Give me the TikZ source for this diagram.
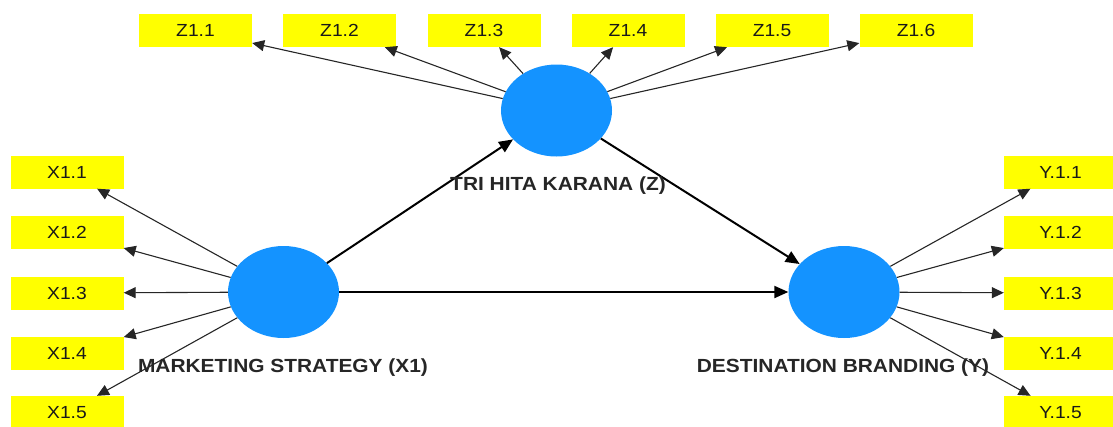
\documentclass[tikz,border=0pt]{standalone}
\usepackage{fontspec}
\setmainfont{Liberation Sans}
\newfontfamily\lblfont[FakeStretch=1.1]{Liberation Sans}
\usetikzlibrary{shapes.geometric,arrows.meta}
\definecolor{latent}{RGB}{20,147,255}
\definecolor{ind}{RGB}{255,255,0}
\begin{document}
\begin{tikzpicture}[x=1pt,y=-1pt,
 indbox/.style={fill=ind, minimum width=113pt, minimum height=33pt, inner sep=0pt, font=\fontsize{17.5}{17.5}\selectfont\lblfont, text=black!90},
 lv/.style={ellipse, fill=latent, minimum width=111pt, minimum height=92pt, inner sep=0pt},
 lvlabel/.style={anchor=base, font=\fontsize{19}{19}\selectfont\lblfont\bfseries, text=black!85, inner sep=0pt},
 load/.style={draw=black!85, line width=1.1pt, -{Triangle[length=12pt,width=11pt]}},
 struct/.style={draw=black, line width=2pt, -{Triangle[length=14pt,width=12pt]}}
]
\useasboundingbox (0,0) rectangle (1113,426);
% latent variables
\node[lv] (Z) at (556.5,110.5) {};
\node[lv] (X) at (283.5,292) {};
\node[lv] (Y) at (844,292) {};
% Z indicators
\node[indbox] (z1) at (195.5,30.5) {Z1.1};
\node[indbox] (z2) at (339.5,30.5) {Z1.2};
\node[indbox] (z3) at (484,30.5) {Z1.3};
\node[indbox] (z4) at (628,30.5) {Z1.4};
\node[indbox] (z5) at (772,30.5) {Z1.5};
\node[indbox] (z6) at (916,30.5) {Z1.6};
% X indicators
\node[indbox] (x1) at (67,172) {X1.1};
\node[indbox] (x2) at (67,232.5) {X1.2};
\node[indbox] (x3) at (67,293) {X1.3};
\node[indbox] (x4) at (67,353) {X1.4};
\node[indbox] (x5) at (67,412.5) {X1.5};
% Y indicators
\node[indbox] (y1) at (1060.5,172) {Y.1.1};
\node[indbox] (y2) at (1060.5,232.5) {Y.1.2};
\node[indbox] (y3) at (1060.5,293) {Y.1.3};
\node[indbox] (y4) at (1060.5,353) {Y.1.4};
\node[indbox] (y5) at (1060.5,412.5) {Y.1.5};
% loadings
\foreach \i in {1,...,6} {\draw[load] (Z) -- (z\i);}
\foreach \i in {1,...,5} {\draw[load] (X) -- (x\i);}
\foreach \i in {1,...,5} {\draw[load] (Y) -- (y\i);}
% structural paths
\draw[struct] (X) -- (Z);
\draw[struct] (X) -- (Y);
\draw[struct] (Z) -- (Y);
% labels
\node[lvlabel] (lz) at (558,190.5) {TRI HITA KARANA (Z)};
\node[lvlabel] (lx) at (283,372) {MARKETING STRATEGY (X1)};
\node[lvlabel] (ly) at (843,372) {DESTINATION BRANDING (Y)};
\end{tikzpicture}
\end{document}
